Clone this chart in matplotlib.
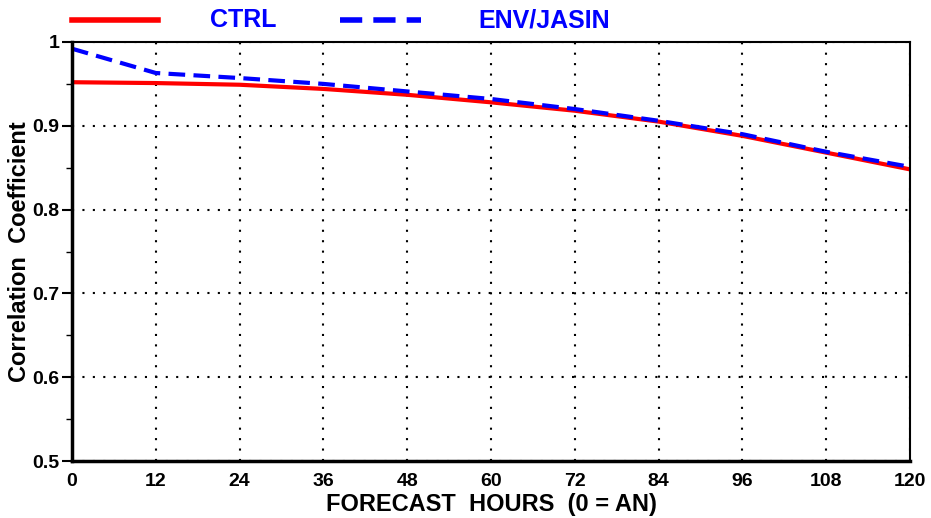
import matplotlib
matplotlib.use("Agg")
import matplotlib.pyplot as plt
from matplotlib.lines import Line2D

hours = [0, 12, 24, 36, 48, 60, 72, 84, 96, 108, 120]
ctrl = [0.952, 0.951, 0.949, 0.944, 0.937, 0.928, 0.918, 0.905, 0.888, 0.868, 0.848]
env_jasin = [0.992, 0.963, 0.957, 0.950, 0.941, 0.932, 0.920, 0.906, 0.890, 0.869, 0.851]
yticks = [0.5, 0.6, 0.7, 0.8, 0.9, 1.0]
ytick_labels = ['0.5', '0.6', '0.7', '0.8', '0.9', '1']
yminor = [0.55, 0.65, 0.75, 0.85, 0.95]

plt.rcParams['font.family'] = ['Liberation Sans Narrow', 'Liberation Sans', 'DejaVu Sans']
plt.rcParams['font.weight'] = 'bold'


def main():
    fig = plt.figure(figsize=(9.31, 5.18), dpi=100)
    ax = fig.add_axes([72 / 931, 1 - 461 / 518, (910 - 72) / 931, (461 - 42) / 518])

    ax.plot(hours, ctrl, color='red', lw=3, solid_capstyle='butt')
    ax.plot(hours, env_jasin, color='blue', lw=3, ls=(0, (4, 2)))

    ax.set_xlim(0, 120)
    ax.set_ylim(0.5, 1.0)
    ax.set_xticks(hours)
    ax.set_yticks(yticks)
    ax.set_yticklabels(ytick_labels)
    ax.set_yticks(yminor, minor=True)
    ax.tick_params(axis='y', which='major', length=7, width=1.5, labelsize=14, pad=2)
    ax.tick_params(axis='y', which='minor', length=4, width=1)
    ax.tick_params(axis='x', length=0, labelsize=14, pad=9)
    ax.grid(True, which='major', color='black', ls=(0, (1, 4)), lw=1.5)
    for s in ax.spines.values():
        s.set_linewidth(1.5)
    ax.spines['left'].set_linewidth(2.5)
    ax.spines['bottom'].set_linewidth(2.5)

    ax.set_xlabel('FORECAST  HOURS  (0 = AN)', fontsize=17, fontweight='bold', labelpad=2)
    ax.set_ylabel('Correlation  Coefficient', fontsize=17, fontweight='bold', va='center')
    ax.yaxis.set_label_coords(-52 / 838, 0.5)

    # legend row above the axes
    fig.add_artist(Line2D([72 / 931, 158 / 931], [1 - 20 / 518] * 2, color='red', lw=4))
    fig.text(210 / 931, 1 - 20 / 518, 'CTRL', color='blue', fontsize=18, fontweight='bold', va='center')
    fig.add_artist(Line2D([340 / 931, 421 / 931], [1 - 20 / 518] * 2, color='blue', lw=4,
                          ls=(0, (4, 2))))
    fig.text(478 / 931, 1 - 20 / 518, 'ENV/JASIN', color='blue', fontsize=18, fontweight='bold',
             va='center')

    fig.savefig('out.png', dpi=100)


if __name__ == "__main__":
    main()
